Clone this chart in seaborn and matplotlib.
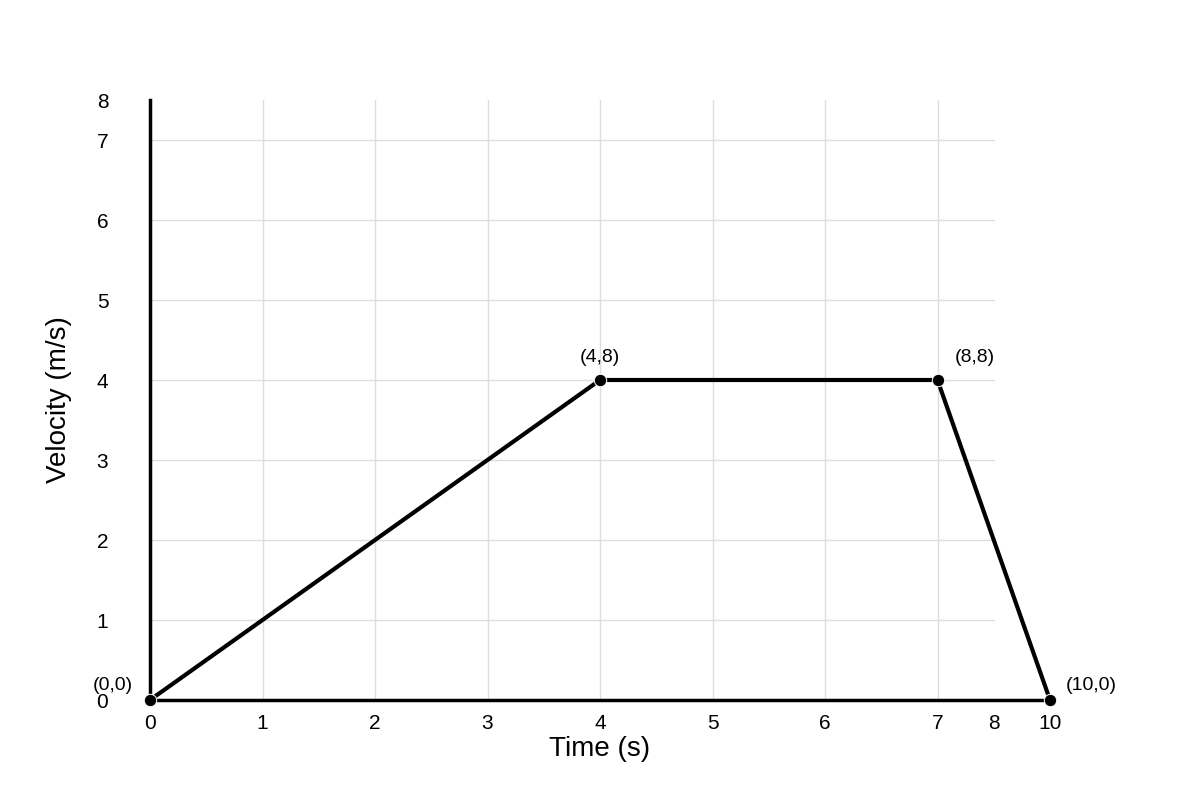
import matplotlib
matplotlib.use("Agg")
import matplotlib.pyplot as plt
import seaborn as sns
import pandas as pd

sns.set_style("white")
plt.rcParams['font.family'] = ['Liberation Sans', 'DejaVu Sans']
plt.rcParams['text.color'] = 'black'
plt.rcParams['axes.labelcolor'] = 'black'
plt.rcParams['xtick.color'] = 'black'
plt.rcParams['ytick.color'] = 'black'

# axis positions are evenly spaced slots; labels as printed on the chart
x_slots = [0, 1, 2, 3, 4, 5, 6, 7, 7.5, 8]
x_labels = ['0', '1', '2', '3', '4', '5', '6', '7', '8', '10']
y_slots = [0, 1, 2, 3, 4, 5, 6, 7, 7.5]
y_labels = ['0', '1', '2', '3', '4', '5', '6', '7', '8']

# points in slot coordinates and their labels
pt_x = [0, 4, 7, 8]
pt_y = [0, 4, 4, 0]
pt_text = ['(0,0)', '(4,8)', '(8,8)', '(10,0)']
df = pd.DataFrame({'x': pt_x, 'y': pt_y})

fig = plt.figure(figsize=(12, 8), dpi=100)
ax = fig.add_axes([0.125, 0.125, 0.75, 0.75])

# grid
for g in range(1, 8):
    ax.plot([g, g], [0, 7.5], color='#dddddd', lw=1, zorder=0)
    ax.plot([0, 7.5], [g, g], color='#dddddd', lw=1, zorder=0)

sns.lineplot(data=df, x='x', y='y', color='black', lw=3, sort=False, ax=ax, clip_on=False)
sns.scatterplot(data=df, x='x', y='y', color='black', s=80, ax=ax, clip_on=False, zorder=5)

offsets = [(-27, 4), (0, 10), (27, 10), (30, 4)]
for x, y, t, (dx, dy) in zip(pt_x, pt_y, pt_text, offsets):
    ax.annotate(t, (x, y), xytext=(dx, dy), textcoords='offset points',
                ha='center', va='bottom', fontsize=14, annotation_clip=False)

ax.set_xlim(0, 7.5)
ax.set_ylim(0, 7.5)

for s in ['top', 'right']:
    ax.spines[s].set_visible(False)
for s in ['left', 'bottom']:
    ax.spines[s].set_linewidth(2.5)
    ax.spines[s].set_color('black')

ax.set_xticks(x_slots)
ax.set_xticklabels(x_labels, fontsize=15)
ax.set_yticks(y_slots)
ax.set_yticklabels(y_labels, fontsize=15)
ax.tick_params(length=0, pad=10)
ax.tick_params(axis='y', pad=30)
ax.set_xlabel('Time (s)', fontsize=20, labelpad=2)
ax.set_ylabel('Velocity (m/s)', fontsize=20, labelpad=18)

plt.savefig('out.png', dpi=100)
